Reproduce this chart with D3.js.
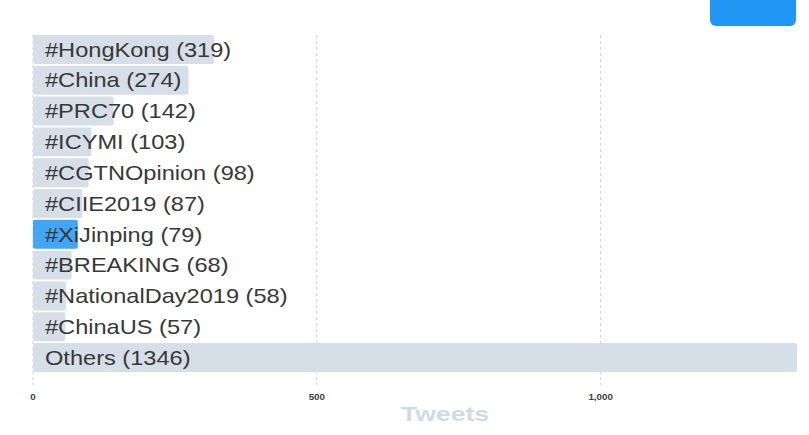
<!DOCTYPE html>
<html>
<head>
<meta charset="utf-8">
<script src="https://cdn.jsdelivr.net/npm/d3@7"></script>
<style>
  body { margin: 0; background: #fff; }
  svg { display: block; font-family: "Liberation Sans", Arial, sans-serif; }
</style>
</head>
<body>
<div id="chart"></div>
<script>
// hashtag counts
const hashtags = ['#HongKong', '#China', '#PRC70', '#ICYMI', '#CGTNOpinion', '#CIIE2019',
  '#XiJinping', '#BREAKING', '#NationalDay2019', '#ChinaUS', 'Others'];
const counts = [319, 274, 142, 103, 98, 87, 79, 68, 58, 57, 1346];
const highlighted = ['#XiJinping'];
const ticks = [0, 500, 1000];

const width = 809, height = 435;
const stretch = 1.18; // labels look wide in the original

const data = hashtags.map((h, i) => ({ tag: h, value: counts[i] }));

const svg = d3.select('#chart')
  .append('svg')
  .attr('width', width)
  .attr('height', height);

const x = d3.scaleLinear()
  .domain([0, d3.max(counts)])
  .range([33, 797]);

const y = d3.scaleBand()
  .domain(hashtags)
  .range([35, 372])
  .paddingInner(0.06);

// grid lines
svg.append('g')
  .selectAll('line')
  .data(ticks)
  .enter()
  .append('line')
  .attr('x1', d => x(d))
  .attr('x2', d => x(d))
  .attr('y1', 35)
  .attr('y2', 385)
  .attr('stroke', '#cfcfcf')
  .attr('stroke-dasharray', '3,3');

const bar = svg.selectAll('.bar')
  .data(data)
  .enter()
  .append('g')
  .attr('class', 'bar');

bar.append('rect')
  .attr('x', x(0))
  .attr('y', d => y(d.tag))
  .attr('width', d => x(d.value) - x(0))
  .attr('height', y.bandwidth())
  .attr('rx', 2)
  .attr('fill', d => highlighted.includes(d.tag) ? '#42a5f5' : '#d6dee8');

bar.append('text')
  .attr('transform', d => `translate(45,${y(d.tag) + y.bandwidth() / 2}) scale(${stretch},1)`)
  .attr('dy', '0.36em')
  .attr('font-size', 20)
  .attr('fill', '#383838')
  .text(d => `${d.tag} (${d.value})`);

// x axis labels
svg.append('g')
  .selectAll('text')
  .data(ticks)
  .enter()
  .append('text')
  .attr('transform', d => `translate(${x(d)},400) scale(1.15,1)`)
  .attr('text-anchor', 'middle')
  .attr('font-size', 8.5)
  .attr('font-weight', 'bold')
  .attr('fill', '#3f3f3f')
  .text(d3.format(','));

svg.append('text')
  .attr('transform', `translate(445,421) scale(1.33,1)`)
  .attr('text-anchor', 'middle')
  .attr('font-size', 20)
  .attr('font-weight', 'bold')
  .attr('fill', '#d0dae6')
  .text('Tweets');

// button at top right
svg.append('rect')
  .attr('x', 710)
  .attr('y', -8)
  .attr('width', 86)
  .attr('height', 34)
  .attr('rx', 6)
  .attr('fill', '#2196f3');
</script>
</body>
</html>
